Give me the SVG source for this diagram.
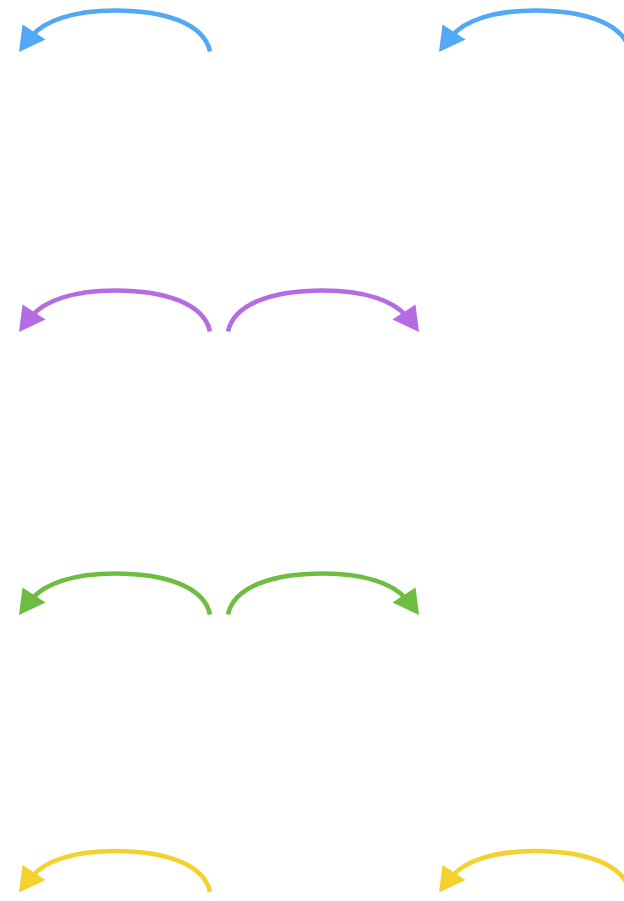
<svg xmlns="http://www.w3.org/2000/svg" xmlns:xlink="http://www.w3.org/1999/xlink" width="624" height="901" viewBox="0 0 624 901">
  <style>
    .arc { fill: none; stroke-width: 4.6; stroke-linecap: butt; }
    .blue { stroke: #52a8f6; fill: #52a8f6; }
    .purple { stroke: #b46ce2; fill: #b46ce2; }
    .green { stroke: #6dbd41; fill: #6dbd41; }
    .yellow { stroke: #f5d12e; fill: #f5d12e; }
  </style>
  <defs>
    <g id="curl">
      <path class="arc" d="M210,51.5 C204,24 166,10.5 115,10.5 C73,10.5 44,21 32,36" style="fill:none"/>
      <polygon points="19,52 22.5,24.5 45.5,39.5" style="stroke:none"/>
    </g>
  </defs>
  <rect width="624" height="901" fill="#ffffff"/>
  <g id="connectors">
    <g id="blue-left" class="blue"><use xlink:href="#curl" href="#curl"/></g>
    <g id="blue-right" class="blue" transform="translate(420,0)"><use xlink:href="#curl" href="#curl"/></g>
    <g id="purple-left" class="purple" transform="translate(0,280)"><use xlink:href="#curl" href="#curl"/></g>
    <g id="purple-right" class="purple" transform="translate(438,280) scale(-1,1)"><use xlink:href="#curl" href="#curl"/></g>
    <g id="green-left" class="green" transform="translate(0,563)"><use xlink:href="#curl" href="#curl"/></g>
    <g id="green-right" class="green" transform="translate(438,563) scale(-1,1)"><use xlink:href="#curl" href="#curl"/></g>
    <g id="yellow-left" class="yellow" transform="translate(0,840.5)"><use xlink:href="#curl" href="#curl"/></g>
    <g id="yellow-right" class="yellow" transform="translate(420,840.5)"><use xlink:href="#curl" href="#curl"/></g>
  </g>
</svg>
